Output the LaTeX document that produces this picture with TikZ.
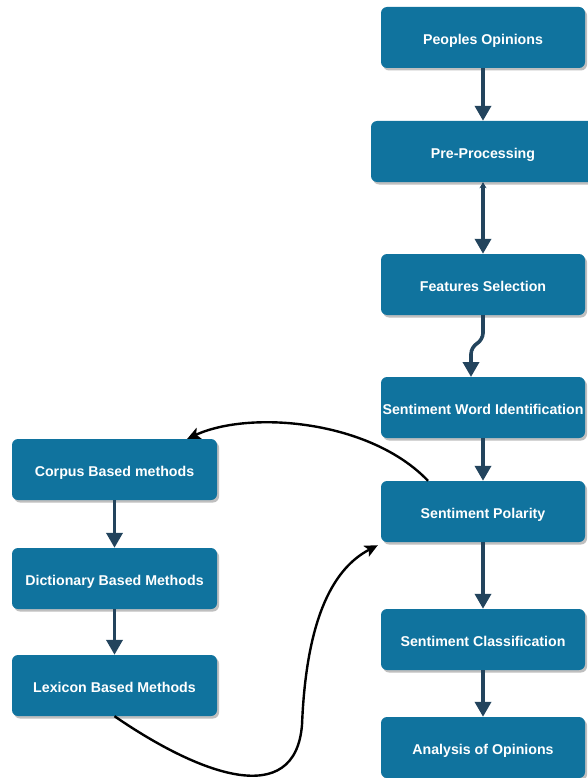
\documentclass[tikz,border=0pt]{standalone}
\usepackage{fontspec}
\setmainfont{Liberation Sans}
\usetikzlibrary{arrows.meta,shadows,calc}
\definecolor{boxblue}{HTML}{10739E}
\definecolor{arrowblue}{HTML}{23445D}
\tikzset{
  stepbox/.style={rectangle, rounded corners=6pt, fill=boxblue, text=white,
    font=\fontsize{14.2pt}{16pt}\selectfont\bfseries, minimum width=204pt, minimum height=61pt,
    inner sep=0pt, text height=14pt, text depth=0.8pt,
    drop shadow={shadow xshift=2pt, shadow yshift=-2.5pt, fill=black, opacity=0.25}},
  flow/.style={draw=arrowblue, line width=3.6pt, -{Triangle[width=16pt,length=15pt]}},
  curvy/.style={draw=black, line width=2.4pt, -{Stealth[width=12pt,length=13pt,inset=3pt]}}
}
\begin{document}
\begin{tikzpicture}[x=1pt,y=-1pt]
\useasboundingbox (0,0) rectangle (587,778);
\node[stepbox] (po) at (483,37.5) {Peoples Opinions};
\node[stepbox, minimum width=224pt] (pp) at (483,151.5) {Pre-Processing};
\node[stepbox] (fs) at (483,284.5) {Features Selection};
\node[stepbox] (swi) at (483,407.5) {Sentiment Word Identification};
\node[stepbox] (sp) at (483,511.5) {Sentiment Polarity};
\node[stepbox] (sc) at (483,639.5) {Sentiment Classification};
\node[stepbox] (ao) at (483,747.5) {Analysis of Opinions};
\node[stepbox, minimum width=205pt] (corpus) at (114.5,469.5) {Corpus Based methods};
\node[stepbox, minimum width=205pt] (dict) at (114.5,578.5) {Dictionary Based Methods};
\node[stepbox, minimum width=205pt] (lex) at (114.5,685.5) {Lexicon Based Methods};

\draw[flow] (po) -- (pp);
\draw[draw=arrowblue, line width=3.6pt, {Stealth[width=7pt,length=6pt]}-{Triangle[width=16pt,length=15pt]}] (pp) -- (fs);
\coordinate (fsbend) at (483,340);
\coordinate (switop) at (471,377);
\draw[flow, rounded corners=7pt] (fs.south) -- (fsbend) -- (471,347) -- (switop);
\draw[flow] (swi) -- (sp);
\draw[flow] (sp) -- (sc);
\draw[flow] (sc) -- (ao);
\draw[flow] (corpus) -- (dict);
\draw[flow] (dict) -- (lex);

\coordinate (c1s) at ([xshift=-55pt]sp.north);
\coordinate (c1e) at ([xshift=-30pt]corpus.north east);
\draw[curvy] (c1s) .. controls (370,420) and (250,410) .. (c1e);
\coordinate (c2m) at (302,725);
\coordinate (c2e) at ([xshift=-3pt,yshift=-3pt]sp.south west);
\draw[curvy] (lex.south) .. controls (200,775) and (295,810) .. (c2m) .. controls (306,625) and (330,570) .. (c2e);
\end{tikzpicture}
\end{document}
